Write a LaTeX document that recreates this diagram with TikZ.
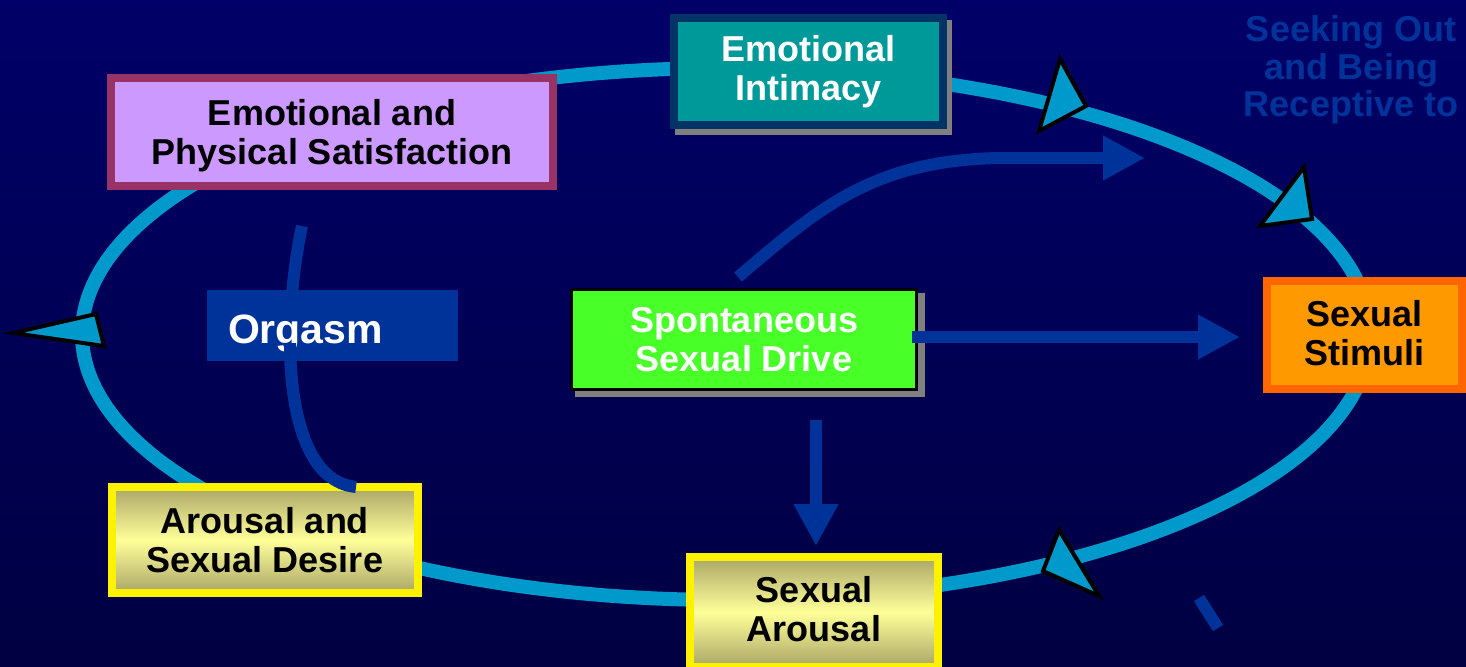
\documentclass[tikz,border=0pt]{standalone}
\usepackage{fontspec}
\setmainfont{Liberation Sans}
\usetikzlibrary{arrows.meta,calc}
\definecolor{bgtop}{RGB}{0,0,104}
\definecolor{bgbot}{RGB}{0,0,66}
\definecolor{cRing}{RGB}{0,153,204}
\definecolor{cArr}{RGB}{0,51,153}
\definecolor{cTeal}{RGB}{0,153,153}
\definecolor{cNavy}{RGB}{0,51,102}
\definecolor{cLilac}{RGB}{204,153,255}
\definecolor{cPlum}{RGB}{153,51,102}
\definecolor{cLime}{RGB}{72,255,40}
\definecolor{cOrFill}{RGB}{255,153,0}
\definecolor{cOrLine}{RGB}{255,102,0}
\definecolor{cOlive}{RGB}{170,166,104}
\definecolor{cPaleY}{RGB}{255,255,153}
\definecolor{cShad}{RGB}{128,128,128}
\newcommand\shiftln[2]{\raisebox{#1}[\height][\depth]{#2}}
\begin{document}
\begin{tikzpicture}[x=0.5pt,y=-0.5pt,
  box/.style={rectangle, align=center, inner sep=0pt,
    font=\fontsize{18pt}{19.5pt}\selectfont\bfseries},
  ringtri/.style={fill=cRing, draw=black, line width=2pt, line join=miter},
  conn/.style={draw=cArr, line width=6pt, -{Triangle[width=21pt,length=21pt]}},
  plainline/.style={draw=cArr, line width=6pt},
  yellowbox/.style={box, draw=yellow, line width=4pt, top color=cOlive,
    bottom color=cOlive, middle color=cPaleY, text=black},
]
\useasboundingbox (0,0) rectangle (1466,666);
\shade[top color=bgtop, bottom color=bgbot] (0,0) rectangle (1466,666);

% ring
\draw[cRing, line width=7pt] (726,334) ellipse [x radius=322pt, y radius=133pt];
\draw[ringtri] (1060,59) -- (1086,106) -- (1039,131) -- cycle;
\draw[ringtri] (1304,167) -- (1312,219) -- (1260,226) -- cycle;
\draw[ringtri] (13,333) -- (96,314) -- (104,346) -- cycle;
\draw[ringtri] (1059,530) -- (1099,596) -- (1043,571) -- cycle;

% shadows
\fill[cShad] (675,20) rectangle (952,135);
\fill[cShad] (575,293) rectangle (925,397);

% orgasm curve (behind its box)
\coordinate (oc1) at (302,226);
\coordinate (oc2) at (356,487);
\draw[plainline] (oc1) .. controls (280,330) and (283,480) .. (oc2);

% boxes
\node[box, draw=cNavy, line width=4pt, fill=cTeal, text=white,
  minimum width=134.5pt, minimum height=53.5pt] (ei) at (808.5,71.5)
  {Emotional\\Intimacy};
\node[box, draw=cPlum, line width=4pt, fill=cLilac, text=black,
  minimum width=221pt, minimum height=54pt] (sat) at (332,132)
  {\shiftln{-2pt}{Emotional and}\\\shiftln{-2pt}{Physical Satisfaction}};
\node[rectangle, fill=cArr, text=white, align=left, inner xsep=10.5pt,
  inner ysep=0pt, text width=104.5pt, minimum height=35.5pt,
  text height=17.5pt, text depth=0pt,
  font=\fontsize{20.5pt}{22pt}\selectfont\bfseries] (org) at (332.5,325.5)
  {Orgasm};
\node[box, draw=black, line width=1.5pt, fill=cLime, text=white,
  minimum width=172.5pt, minimum height=50pt] (sd) at (744,339.5)
  {Spontaneous\\Sexual Drive};
\node[box, draw=cOrLine, line width=4pt, fill=cOrFill, text=black,
  minimum width=97.5pt, minimum height=54pt] (stim) at (1364.5,335)
  {\shiftln{1pt}{Sexual}\\\shiftln{1pt}{Stimuli}};
\node[yellowbox, minimum width=153pt, minimum height=53pt] (asd) at (265,540)
  {Arousal and\\Sexual Desire};
\node[yellowbox, minimum width=124pt, minimum height=55pt] (sa) at (814,612)
  {\shiftln{1.5pt}{Sexual}\\\shiftln{1.5pt}{Arousal}};

\node[align=center, text=cArr, inner sep=0pt,
  font=\fontsize{18pt}{18.75pt}\selectfont\bfseries] (seek) at (1351,70)
  {Seeking Out\\and Being\\Receptive to};

% orgasm curve: the part below the label's baseline lies on top
\begin{scope}
  \clip (200,343) rectangle (470,520);
  \draw[plainline] (oc1) .. controls (280,330) and (283,480) .. (oc2);
\end{scope}

% connectors
\coordinate (c1s) at (738,277);
\coordinate (c1m) at (1000,158);
\coordinate (c1e) at (1145,158);
\draw[conn] (c1s) .. controls (815,212) and (870,160) .. (c1m) -- (c1e);
\coordinate (c2s) at (912,337);
\coordinate (c2e) at (1240,337);
\draw[conn] (c2s) -- (c2e);
\coordinate (c3s) at (816,420);
\coordinate (c3e) at (816,546);
\draw[conn] (c3s) -- (c3e);
\coordinate (d1) at (1199,598);
\coordinate (d2) at (1218,628);
\draw[plainline] (d1) -- (d2);
\end{tikzpicture}
\end{document}
